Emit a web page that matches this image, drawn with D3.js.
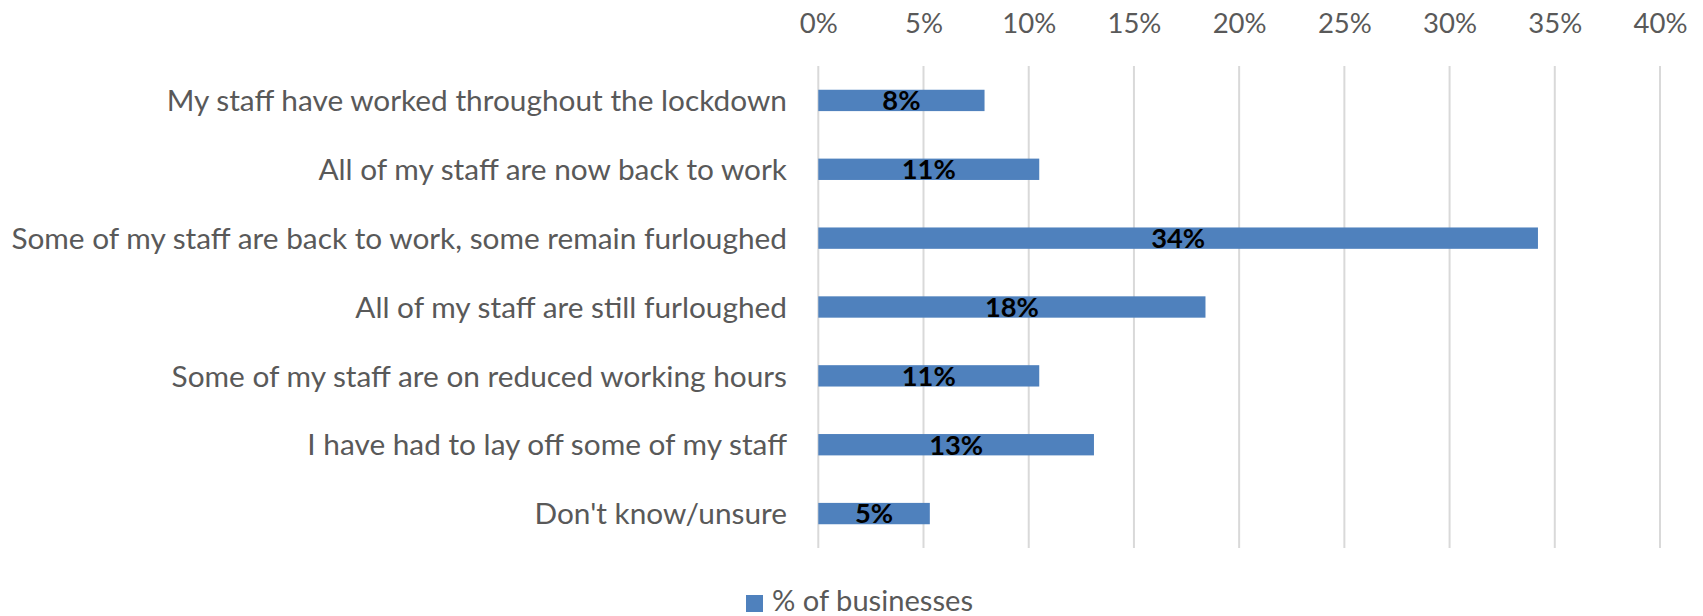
<!DOCTYPE html>
<html>
<head>
<meta charset="utf-8">
<script src="https://cdn.jsdelivr.net/npm/d3@7"></script>
<style>
  html, body { margin: 0; padding: 0; background: #ffffff; }
  svg { display: block; }
  text { font-family: Lato, "Open Sans", "DejaVu Sans", sans-serif; }
</style>
</head>
<body>
<svg id="chart" width="1703" height="616"></svg>
<script>
// Survey answers, top to bottom
const categories = [
  "My staff have worked throughout the lockdown",
  "All of my staff are now back to work",
  "Some of my staff are back to work, some remain furloughed",
  "All of my staff are still furloughed",
  "Some of my staff are on reduced working hours",
  "I have had to lay off some of my staff",
  "Don't know/unsure"
];
// Share of businesses, in percent
const shares = [7.9, 10.5, 34.2, 18.4, 10.5, 13.1, 5.3];
const tickValues = [0, 5, 10, 15, 20, 25, 30, 35, 40];
const seriesName = "% of businesses";

const W = 1703, H = 616;
const plot = { left: 818.3, right: 1660, top: 66, bottom: 548 };
const barColor = "#4f81bd";
const textColor = "#595959";

const svg = d3.select("#chart");
svg.append("rect").attr("width", W).attr("height", H).attr("fill", "#ffffff");

const x = d3.scaleLinear().domain([0, 40]).range([plot.left, plot.right]);
const y = d3.scaleBand().domain(categories)
  .range([plot.top, plot.bottom])
  .paddingInner(0.69).paddingOuter(0.345);

// Fit a text selection's font size so one reference element reaches a target width
function fitWidth(sel, refNode, target) {
  const base = parseFloat(d3.select(refNode).attr("font-size"));
  const w = refNode.getComputedTextLength();
  if (w > 0) sel.attr("font-size", (base * target / w).toFixed(2));
}

// Vertical gridlines
svg.append("g").selectAll("line")
  .data(tickValues)
  .join("line")
  .attr("x1", d => x(d)).attr("x2", d => x(d))
  .attr("y1", plot.top).attr("y2", plot.bottom)
  .attr("stroke", "#d9d9d9").attr("stroke-width", 2);

// Top axis labels
const xAxis = d3.axisTop(x).tickValues(tickValues).tickFormat(d => d + "%").tickSize(0).tickPadding(0);
const gx = svg.append("g").attr("transform", "translate(0,33)").call(xAxis);
gx.select(".domain").remove();
const xLabels = gx.selectAll("text")
  .attr("fill", textColor)
  .attr("font-size", 26)
  .attr("dy", 0)
  .style("font-family", "Lato, 'Open Sans', sans-serif");
fitWidth(xLabels, xLabels.filter(d => d === 40).node(), 54);

// Category labels on the left
const yAxis = d3.axisLeft(y).tickSize(0).tickPadding(0);
const gy = svg.append("g").attr("transform", "translate(787,0)").call(yAxis);
gy.select(".domain").remove();
const yLabels = gy.selectAll("text")
  .attr("fill", textColor)
  .attr("font-size", 26)
  .attr("dy", "0.36em")
  .style("font-family", "Lato, 'Open Sans', sans-serif");
fitWidth(yLabels, yLabels.filter(d => d === categories[2]).node(), 776);

// Bars
svg.append("g").selectAll("rect")
  .data(shares)
  .join("rect")
  .attr("x", x(0))
  .attr("y", (d, i) => y(categories[i]))
  .attr("width", d => x(d) - x(0))
  .attr("height", y.bandwidth())
  .attr("fill", barColor);

// Value labels centred on each bar
const labels = svg.append("g").selectAll("text")
  .data(shares)
  .join("text")
  .attr("x", d => (x(0) + x(d)) / 2)
  .attr("y", (d, i) => y(categories[i]) + y.bandwidth() / 2)
  .attr("dy", "0.36em")
  .attr("text-anchor", "middle")
  .attr("font-weight", "bold")
  .attr("font-size", 26)
  .attr("fill", "#000000")
  .text(d => Math.round(d) + "%");
fitWidth(labels, labels.filter((d, i) => i === 2).node(), 54);

// Legend
const legend = svg.append("g");
legend.append("rect")
  .attr("x", 746).attr("y", 595)
  .attr("width", 17).attr("height", 17)
  .attr("fill", barColor);
const lt = legend.append("text")
  .attr("x", 772).attr("y", 611)
  .attr("fill", textColor)
  .attr("font-size", 26)
  .text(seriesName);
fitWidth(lt, lt.node(), 201);
</script>
</body>
</html>
